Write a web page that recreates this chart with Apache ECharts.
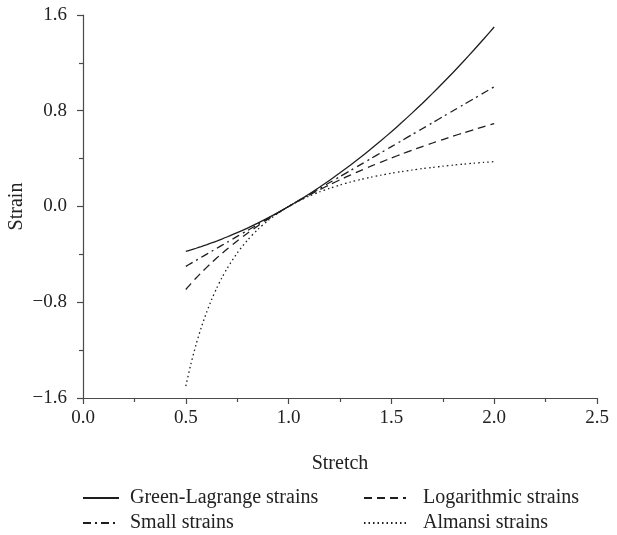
<!DOCTYPE html>
<html>
<head>
<meta charset="utf-8">
<script src="https://cdn.jsdelivr.net/npm/echarts@6/dist/echarts.min.js"></script>
<style>
  html, body { margin: 0; padding: 0; background: #fff; }
  #chart { width: 617px; height: 535px; }
</style>
</head>
<body>
<div id="chart"></div>
<script>
// Stretch values (lambda) sampled between 0.5 and 2.0
const stretch = [0.5, 0.525, 0.55, 0.575, 0.6, 0.625, 0.65, 0.675, 0.7, 0.75, 0.8, 0.85, 0.9, 0.95, 1.0,
  1.05, 1.1, 1.15, 1.2, 1.25, 1.3, 1.35, 1.4, 1.45, 1.5, 1.55, 1.6, 1.65, 1.7, 1.75, 1.8, 1.85, 1.9, 1.95, 2.0];

const greenLagrange = [-0.375, -0.3622, -0.3488, -0.3347, -0.32, -0.3047, -0.2888, -0.2722, -0.255, -0.2188, -0.18, -0.1388, -0.095, -0.0488, 0,
  0.0513, 0.105, 0.1613, 0.22, 0.2813, 0.345, 0.4113, 0.48, 0.5513, 0.625, 0.7013, 0.78, 0.8613, 0.945, 1.0313, 1.12, 1.2113, 1.305, 1.4013, 1.5];

const smallStrain = [-0.5, -0.475, -0.45, -0.425, -0.4, -0.375, -0.35, -0.325, -0.3, -0.25, -0.2, -0.15, -0.1, -0.05, 0,
  0.05, 0.1, 0.15, 0.2, 0.25, 0.3, 0.35, 0.4, 0.45, 0.5, 0.55, 0.6, 0.65, 0.7, 0.75, 0.8, 0.85, 0.9, 0.95, 1.0];

const logarithmic = [-0.6931, -0.6444, -0.5978, -0.5534, -0.5108, -0.47, -0.4308, -0.393, -0.3567, -0.2877, -0.2231, -0.1625, -0.1054, -0.0513, 0,
  0.0488, 0.0953, 0.1398, 0.1823, 0.2231, 0.2624, 0.3001, 0.3365, 0.3716, 0.4055, 0.4383, 0.47, 0.5008, 0.5306, 0.5596, 0.5878, 0.6152, 0.6419, 0.6678, 0.6931];

const almansi = [-1.5, -1.3141, -1.1529, -1.0123, -0.8889, -0.78, -0.6834, -0.5974, -0.5204, -0.3889, -0.2813, -0.192, -0.1173, -0.054, 0,
  0.0465, 0.0868, 0.1219, 0.1528, 0.18, 0.2041, 0.2257, 0.2449, 0.2622, 0.2778, 0.2919, 0.3047, 0.3163, 0.327, 0.3367, 0.3457, 0.3539, 0.3615, 0.3685, 0.375];

const seriesNames = ['Green-Lagrange strains', 'Logarithmic strains', 'Small strains', 'Almansi strains'];

const FONT = 'Liberation Serif';
const INK = '#1e1e1e';
const AXIS = '#4a4a4a';
const TEXT = '#222';

function pairs(ys) {
  return stretch.map((x, i) => [x, ys[i]]);
}

function fmt(v) {
  const s = Math.abs(v).toFixed(1);
  return v < 0 ? '\u2212' + s : s;
}

function makeSeries(name, ys, type) {
  return {
    name: name,
    type: 'line',
    data: pairs(ys),
    symbol: 'none',
    smooth: 0.25,
    lineStyle: { color: INK, width: 1.3, type: type },
    itemStyle: { color: INK },
    emphasis: { disabled: true },
    z: 3
  };
}

// one legend entry per component so the entries sit in a 2 x 2 block
function legendAt(name, left, top, width, textGap) {
  return {
    data: [name],
    left: left,
    top: top,
    itemWidth: width,
    itemHeight: 14,
    selectedMode: false,
    padding: 0,
    itemStyle: { opacity: 0, borderWidth: 0 },
    textStyle: { fontFamily: FONT, fontSize: 20, color: TEXT, padding: [0, 0, 0, textGap] }
  };
}

const chart = echarts.init(document.getElementById('chart'), null, { renderer: 'canvas' });

chart.setOption({
  animation: false,
  backgroundColor: '#fff',
  grid: { left: 83, right: 20, top: 15, bottom: 137, containLabel: false, outerBoundsMode: 'none' },
  xAxis: {
    type: 'value',
    min: 0,
    max: 2.5,
    interval: 0.5,
    name: 'Stretch',
    nameLocation: 'middle',
    nameGap: 56,
    nameMoveOverlap: false,
    nameTextStyle: { fontFamily: FONT, fontSize: 20, color: TEXT },
    axisLine: { show: true, onZero: false, lineStyle: { color: AXIS, width: 1.2 } },
    axisTick: { show: true, inside: false, length: 6, lineStyle: { color: AXIS, width: 1.2 } },
    minorTick: { show: true, splitNumber: 2, length: 4, lineStyle: { color: AXIS, width: 1.2 } },
    splitLine: { show: false },
    axisLabel: { formatter: fmt, margin: 11, fontFamily: FONT, fontSize: 19, color: TEXT }
  },
  yAxis: {
    type: 'value',
    min: -1.6,
    max: 1.6,
    interval: 0.8,
    name: 'Strain',
    nameLocation: 'middle',
    nameGap: 56,
    nameMoveOverlap: false,
    nameTextStyle: { fontFamily: FONT, fontSize: 20, color: TEXT },
    axisLine: { show: true, onZero: false, lineStyle: { color: AXIS, width: 1.2 } },
    axisTick: { show: true, inside: false, length: 6, lineStyle: { color: AXIS, width: 1.2 } },
    minorTick: { show: true, splitNumber: 2, length: 4, lineStyle: { color: AXIS, width: 1.2 } },
    splitLine: { show: false },
    axisLabel: { formatter: fmt, margin: 16, fontFamily: FONT, fontSize: 19, color: TEXT }
  },
  legend: [
    legendAt(seriesNames[0], 82, 488, 36, 6),
    legendAt(seriesNames[1], 363, 488, 42, 12),
    legendAt(seriesNames[2], 82, 513, 36, 6),
    legendAt(seriesNames[3], 363, 513, 42, 12)
  ],
  series: [
    makeSeries(seriesNames[0], greenLagrange, 'solid'),
    makeSeries(seriesNames[1], logarithmic, [8, 5]),
    makeSeries(seriesNames[2], smallStrain, [8, 4, 2, 4]),
    makeSeries(seriesNames[3], almansi, [1.5, 3])
  ]
});
</script>
</body>
</html>
